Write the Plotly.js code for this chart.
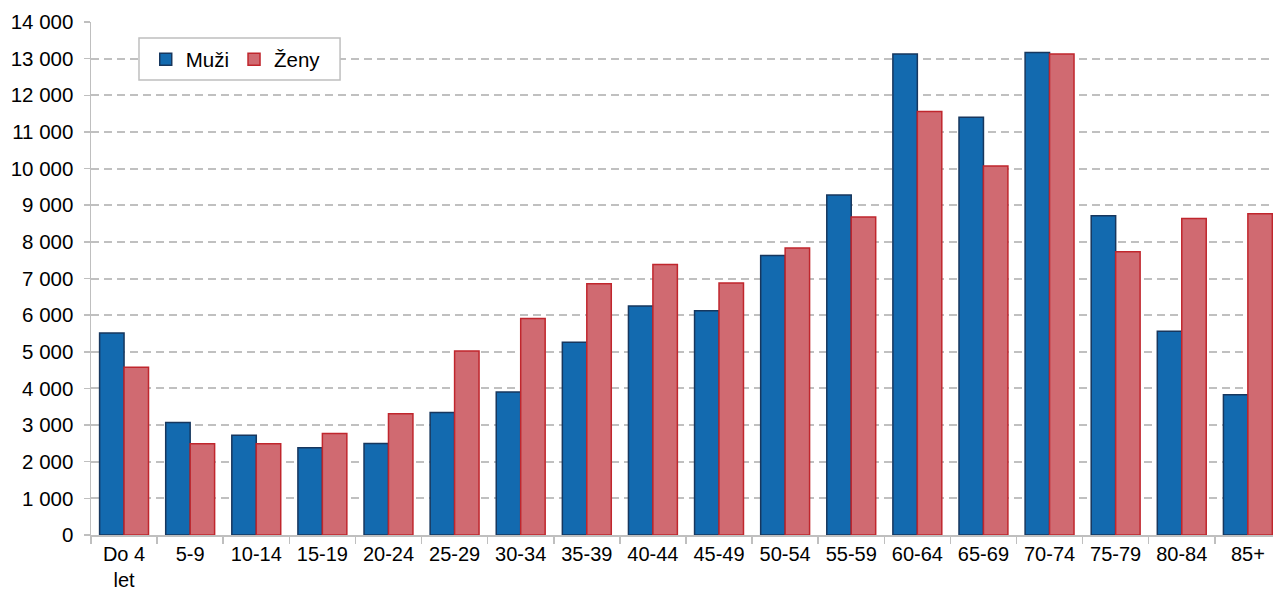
<!DOCTYPE html>
<html>
<head>
<meta charset="utf-8">
<script src="https://cdn.plot.ly/plotly-3.0.1.min.js"></script>
<style>
html, body { margin: 0; padding: 0; background: #fff; overflow: hidden; }
#chart { width: 1273px; height: 592px; }
</style>
</head>
<body>
<div id="chart"></div>
<script>
const categories = ["Do 4<br>let", "5-9", "10-14", "15-19", "20-24", "25-29", "30-34", "35-39", "40-44", "45-49", "50-54", "55-59", "60-64", "65-69", "70-74", "75-79", "80-84", "85+"];
const muzi = [5510, 3070, 2720, 2380, 2500, 3340, 3900, 5260, 6250, 6120, 7630, 9280, 13130, 11400, 13170, 8710, 5560, 3830];
const zeny = [4580, 2490, 2490, 2770, 3310, 5020, 5910, 6860, 7380, 6880, 7830, 8680, 11560, 10070, 13130, 7730, 8640, 8770];
const yTicks = [0, 1000, 2000, 3000, 4000, 5000, 6000, 7000, 8000, 9000, 10000, 11000, 12000, 13000, 14000];

const font = "Liberation Sans, Arial, sans-serif";
const fs = 20.5;

const traces = [
  {
    type: "bar", name: "Muži", x: categories, y: muzi,
    marker: { color: "#136aaf", line: { color: "#17375e", width: 1.5 } },
    hoverinfo: "skip"
  },
  {
    type: "bar", name: "Ženy", x: categories, y: zeny,
    marker: { color: "#d06a71", line: { color: "#c0262d", width: 1.5 } },
    hoverinfo: "skip"
  }
];

const layout = {
  width: 1273, height: 592,
  margin: { l: 91, r: 0, t: 22, b: 57 },
  paper_bgcolor: "#fff", plot_bgcolor: "#fff",
  separators: ", ",
  font: { family: font, size: fs, color: "#000" },
  barmode: "group",
  bargap: 0.26,
  bargroupgap: 0,
  showlegend: true,
  legend: {
    orientation: "h",
    x: 0.0463, xanchor: "left",
    y: 0.966, yanchor: "top",
    borderwidth: 0,
    bgcolor: "rgba(0,0,0,0)",
    font: { family: font, size: fs, color: "#000" },
    itemwidth: 30,
    traceorder: "normal"
  },
  shapes: [
    {
      type: "rect", xref: "paper", yref: "paper",
      x0: 0.0406, x1: 0.2107, y0: 0.887, y1: 0.969,
      fillcolor: "#fff", line: { color: "#bfbfbf", width: 1.5 },
      layer: "above"
    }
  ],
  xaxis: {
    type: "category",
    range: [-0.5, 17.38],
    showline: true, linecolor: "#bfbfbf", linewidth: 1.5,
    ticks: "outside", tickson: "boundaries", ticklen: 7, tickcolor: "#bfbfbf", tickwidth: 1.5,
    ticklabelstandoff: 0,
    showgrid: false,
    tickfont: { family: font, size: 20, color: "#000" },
    fixedrange: true
  },
  yaxis: {
    range: [0, 14000],
    tickvals: yTicks,
    tickformat: ",d",
    showline: true, linecolor: "#bfbfbf", linewidth: 1.5,
    ticks: "outside", ticklen: 6, tickcolor: "#bfbfbf", tickwidth: 1.5,
    ticklabelstandoff: 6,
    showgrid: true, gridcolor: "#c0c0c0", gridwidth: 2, griddash: "8px,5px",
    zeroline: false,
    tickfont: { family: font, size: fs, color: "#000" },
    fixedrange: true
  }
};

Plotly.newPlot("chart", traces, layout, { displayModeBar: false, staticPlot: true });
</script>
</body>
</html>
